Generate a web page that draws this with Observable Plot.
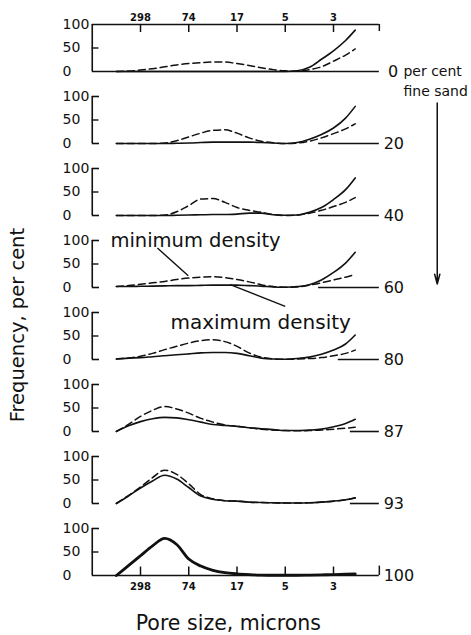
<!DOCTYPE html>
<html>
<head>
<meta charset="utf-8">
<script src="https://cdn.jsdelivr.net/npm/d3@7"></script>
<script src="https://cdn.jsdelivr.net/npm/@observablehq/plot@0.6"></script>
<style>
  body { margin: 0; background: #fff; }
  #chart svg { display: block; }
</style>
</head>
<body>
<div id="chart"></div>
<script>
// ---- data ----
const sandPercent = ["0", "20", "40", "60", "80", "87", "93", "100"];
const poreTickLabels = ["298", "74", "17", "5", "3"];
const poreTickIndex = [1, 2, 3, 4, 5];
const frequencyTicks = [0, 50, 100];
// position along the (equally spaced) pore-size axis, in tick units
const poreIndex = [0.5, 0.75, 1, 1.25, 1.5, 1.75, 2, 2.25, 2.5, 2.75, 3, 3.25, 3.5, 3.75, 4, 4.25, 4.5, 4.75, 5, 5.25, 5.45];

// maximum density (solid) and minimum density (dashed), frequency per cent
const max0   = [0, 0, 0, 0, 0, 0, 0, 0, 0, 0, 0, 0, 0, 0, 0, 1.5, 9, 26, 44, 66, 88];
const min0   = [0, 1, 3, 6, 10, 14, 17, 19, 20, 20, 17, 13, 8, 4, 1.5, 0.5, 4, 10, 22, 35, 48];
const max20  = [0, 0, 0, 0, 0, 0.5, 1, 2, 3, 3, 3, 3, 2, 1, 0, 2, 9, 19, 33, 54, 79];
const min20  = [0, 0, 0, 0, 1, 6, 14, 22, 28, 29, 22, 12, 5, 1.5, 0, 1, 5, 12, 21, 31, 42];
const max40  = [0, 0, 0, 0, 0, 0.5, 1, 1.5, 2, 2, 3, 5, 5, 1.5, 0.5, 1, 7, 17, 34, 55, 80];
const min40  = [0, 0, 0, 0, 1, 8, 21, 35, 36, 28, 17, 11, 7, 2, 0, 1, 5, 11, 19, 28, 38];
const max60  = [2, 2, 2.5, 3, 3.5, 4, 4, 4.5, 5, 5, 5, 4, 3, 1, 0.5, 2, 6, 16, 32, 52, 75];
const min60  = [2, 4, 7, 10, 13, 17, 20, 22, 23, 21, 17, 12, 6, 2, 0.5, 1, 5, 10, 16, 22, 28];
const max80  = [1, 3, 4, 6, 8, 10, 12, 14, 15, 15, 13, 8, 3, 1, 0.5, 2, 5, 11, 20, 33, 52];
const min80  = [1, 3, 7, 13, 21, 28, 35, 40, 42, 38, 28, 14, 5, 1.5, 0.5, 1, 2, 4, 8, 13, 20];
const max87  = [0, 12, 21, 27, 30, 29, 25, 20, 15, 13, 11, 8, 6, 4, 2, 2, 3, 5, 10, 17, 26];
const min87  = [0, 15, 32, 45, 53, 48, 39, 28, 20, 14, 11, 8, 5, 3, 2, 1.5, 2, 3, 5, 7, 9];
const max93  = [0, 16, 33, 48, 60, 52, 34, 16, 9, 6, 5, 3, 2, 1.5, 1, 1, 1.5, 3, 5, 8, 12];
const min93  = [0, 17, 35, 55, 71, 62, 42, 19, 10, 6, 5, 3, 2, 1.5, 1, 1, 1.5, 3, 5, 8, 12];
const max100 = [0, 21, 42, 63, 79, 66, 35, 20, 11, 6, 3.5, 2, 1, 0.5, 0.5, 0.5, 1, 1.5, 2, 3, 3.5];
const min100 = [0, 21, 42, 63, 79, 66, 35, 20, 11, 6, 3.5, 2, 1, 0.5, 0.5, 0.5, 1, 1.5, 2, 3, 3.5];

// ---- build table ----
const maxSeries = [max0, max20, max40, max60, max80, max87, max93, max100];
const minSeries = [min0, min20, min40, min60, min80, min87, min93, min100];
const rows = [];
sandPercent.forEach((p, k) => {
  poreIndex.forEach((x, i) => {
    rows.push({panel: p, x, y: maxSeries[k][i], kind: "max"});
    rows.push({panel: p, x, y: minSeries[k][i], kind: "min"});
  });
});
const solidRows = rows.filter(d => d.kind === "max" && d.panel !== "100");
const solidThick = rows.filter(d => d.kind === "max" && d.panel === "100");
const dashedRows = rows.filter(d => d.kind === "min");

const panels = sandPercent.map(p => ({panel: p}));
const FONT = "DejaVu Sans";
const INK = "#111";
const xEnd = 5.95;

// baseline pieces (right side segments)
const rightBase = {"0": 0, "20": 4.69, "40": 4.69, "60": 4.69, "80": 5.1, "87": 5.35, "93": 5.35, "100": 0};
const baseSegs = sandPercent.map(p => ({panel: p, x1: rightBase[p], x2: xEnd}));
const leftBase = sandPercent.filter(p => rightBase[p] !== 0).map(p => ({panel: p, x1: 0, x2: 0.15}));
const topTicks100 = sandPercent.filter(p => p !== "0").map(p => ({panel: p, x1: 0, x2: 0.15}));
const yLabelRows = panels.flatMap(d => frequencyTicks.map(t => ({panel: d.panel, t})));
const topAxis = poreTickIndex.map((x, i) => ({panel: "0", x, label: poreTickLabels[i]}));
const botAxis = poreTickIndex.map((x, i) => ({panel: "100", x, label: poreTickLabels[i]}));

const chart = Plot.plot({
  width: 471,
  height: 635,
  marginTop: 24,
  marginBottom: 58.3,
  marginLeft: 0,
  marginRight: 0,
  style: {fontFamily: FONT, background: "#fff", color: INK},
  x: {domain: [0, 6], range: [91.75, 381.25], axis: null},
  y: {domain: [0, 100], axis: null},
  fy: {domain: sandPercent, axis: null, padding: 0.345, paddingInner: 0.345, paddingOuter: 0, align: 0},
  marks: [
    // left axis line and bracket ticks
    Plot.ruleX(panels, {x: () => 0, y1: 0, y2: 100, fy: "panel", stroke: INK, strokeWidth: 1.6}),
    Plot.ruleY(topTicks100, {y: () => 100, x1: "x1", x2: "x2", fy: "panel", stroke: INK, strokeWidth: 1.6}),
    Plot.ruleY(panels, {y: () => 50, x1: 0, x2: 0.14, fy: "panel", stroke: INK, strokeWidth: 1.4}),
    Plot.ruleY(leftBase, {y: () => 0, x1: "x1", x2: "x2", fy: "panel", stroke: INK, strokeWidth: 1.6}),
    Plot.ruleY(baseSegs, {y: () => 0, x1: "x1", x2: "x2", fy: "panel", stroke: INK, strokeWidth: 1.6}),
    // y tick labels
    Plot.text(yLabelRows, {x: () => -0.615, y: "t", text: d => String(d.t), fy: "panel", textAnchor: "start", fontSize: 14, fill: INK}),
    // top axis (first panel)
    Plot.ruleY([{panel: "0"}], {y: () => 100, x1: 0, x2: xEnd, fy: "panel", stroke: INK, strokeWidth: 1.6}),
    Plot.ruleX(topAxis, {x: "x", y1: 100, y2: 83, fy: "panel", stroke: INK, strokeWidth: 1.5}),
    Plot.ruleX([{panel: "0"}], {x: () => xEnd, y1: 100, y2: 85, fy: "panel", stroke: INK, strokeWidth: 1.5}),
    Plot.text(topAxis, {x: "x", y: () => 100, dy: -7, text: "label", fy: "panel", fontSize: 10, fontWeight: "bold", fill: INK}),
    // bottom axis (last panel)
    Plot.ruleX(botAxis, {x: "x", y1: 0, y2: 18, fy: "panel", stroke: INK, strokeWidth: 1.5}),
    Plot.ruleX([{panel: "100"}], {x: () => xEnd, y1: 0, y2: 20, fy: "panel", stroke: INK, strokeWidth: 1.5}),
    Plot.text(botAxis, {x: "x", y: () => 0, dy: 11, text: "label", fy: "panel", fontSize: 10, fontWeight: "bold", fill: INK}),
    // curves
    Plot.line(dashedRows, {x: "x", y: "y", fy: "panel", curve: "monotone-x", stroke: INK, strokeWidth: 1.5, strokeDasharray: "7,4"}),
    Plot.line(solidRows, {x: "x", y: "y", fy: "panel", curve: "monotone-x", stroke: INK, strokeWidth: 1.6}),
    Plot.line(solidThick, {x: "x", y: "y", fy: "panel", curve: "monotone-x", stroke: INK, strokeWidth: 2.8}),
    // right-hand percent labels
    Plot.text(panels, {x: d => d.panel === "0" ? 6.13 : 6.04, y: () => 0, text: "panel", fy: "panel", textAnchor: "start", fontSize: 16, fill: INK}),
    Plot.text([{panel: "0", t: "per cent", y: 0}, {panel: "0", t: "fine sand", y: -42}], {x: () => 6.45, y: "y", text: "t", fy: "panel", textAnchor: "start", fontSize: 14, fill: INK}),
    Plot.arrow([{panel: "0"}], {x1: () => 7.15, y1: () => -67, x2: () => 7.15, y2: () => -452, fy: "panel", stroke: INK, strokeWidth: 1.5, headLength: 10, headAngle: 30}),
    // annotations
    Plot.text([{panel: "60"}], {x: () => 2.14, y: () => 99, text: () => "minimum density", fy: "panel", fontSize: 19.5, fill: INK}),
    Plot.link([{panel: "60"}], {x1: () => 1.35, y1: () => 84, x2: () => 1.99, y2: () => 25, fy: "panel", stroke: INK, strokeWidth: 1.4}),
    Plot.text([{panel: "80"}], {x: () => 3.49, y: () => 78, text: () => "maximum density", fy: "panel", fontSize: 20, fill: INK}),
    Plot.link([{panel: "60"}], {x1: () => 2.86, y1: () => 6, x2: () => 4.0, y2: () => -40, fy: "panel", stroke: INK, strokeWidth: 1.4}),
    // axis titles
    Plot.text([{panel: "60"}], {x: () => -1.55, y: () => -80, text: () => "Frequency, per cent", rotate: -90, fy: "panel", fontSize: 19.5, fill: INK}),
    Plot.text([{panel: "100"}], {x: () => 2.82, y: () => -102, text: () => "Pore size, microns", fy: "panel", fontSize: 20.5, fill: INK})
  ]
});
document.getElementById("chart").append(chart);
</script>
</body>
</html>
